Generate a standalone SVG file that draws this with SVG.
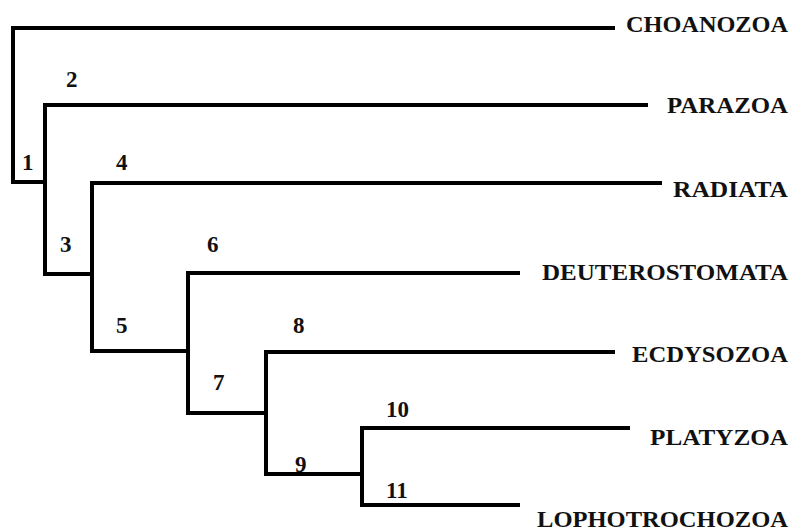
<svg xmlns="http://www.w3.org/2000/svg" width="793" height="531" viewBox="0 0 793 531">
<style>
.ln{fill:none;stroke:#000;stroke-width:4;stroke-linejoin:miter;stroke-linecap:butt}
.lab{font-family:'Liberation Serif','Times New Roman',serif;font-weight:700;font-size:24px;fill:#111;text-anchor:end}
.num{font-family:'Liberation Serif','Times New Roman',serif;font-weight:700;font-size:23px;fill:#111}
</style>
<rect width="793" height="531" fill="#fff"/>
<g id="connectors">
<path class="ln" d="M615,28 H13 V182 H45"/>
<path class="ln" d="M648,105 H45 V274 H92"/>
<path class="ln" d="M662,183 H92 V351 H188"/>
<path class="ln" d="M520,273 H188 V413 H266"/>
<path class="ln" d="M615,352 H266 V474 H362"/>
<path class="ln" d="M630,428 H362 V505 H520"/>
</g>
<g id="choanozoa"><text class="lab" x="788" y="32" textLength="162" lengthAdjust="spacingAndGlyphs">CHOANOZOA</text></g>
<g id="parazoa"><text class="lab" x="788" y="113" textLength="121" lengthAdjust="spacingAndGlyphs">PARAZOA</text></g>
<g id="radiata"><text class="lab" x="788" y="197" textLength="115" lengthAdjust="spacingAndGlyphs">RADIATA</text></g>
<g id="deuterostomata"><text class="lab" x="788" y="280" textLength="246" lengthAdjust="spacingAndGlyphs">DEUTEROSTOMATA</text></g>
<g id="ecdysozoa"><text class="lab" x="788" y="362" textLength="156" lengthAdjust="spacingAndGlyphs">ECDYSOZOA</text></g>
<g id="platyzoa"><text class="lab" x="788" y="445" textLength="138" lengthAdjust="spacingAndGlyphs">PLATYZOA</text></g>
<g id="lophotrochozoa"><text class="lab" x="788" y="527" textLength="251" lengthAdjust="spacingAndGlyphs">LOPHOTROCHOZOA</text></g>
<g id="n1"><text class="num" x="22" y="170">1</text></g>
<g id="n2"><text class="num" x="66" y="87">2</text></g>
<g id="n3"><text class="num" x="60" y="252">3</text></g>
<g id="n4"><text class="num" x="116" y="170">4</text></g>
<g id="n5"><text class="num" x="116" y="333">5</text></g>
<g id="n6"><text class="num" x="207" y="252">6</text></g>
<g id="n7"><text class="num" x="213" y="390">7</text></g>
<g id="n8"><text class="num" x="293" y="333">8</text></g>
<g id="n9"><text class="num" x="295" y="472">9</text></g>
<g id="n10"><text class="num" x="386" y="417">10</text></g>
<g id="n11"><text class="num" x="386" y="498">11</text></g>
</svg>
